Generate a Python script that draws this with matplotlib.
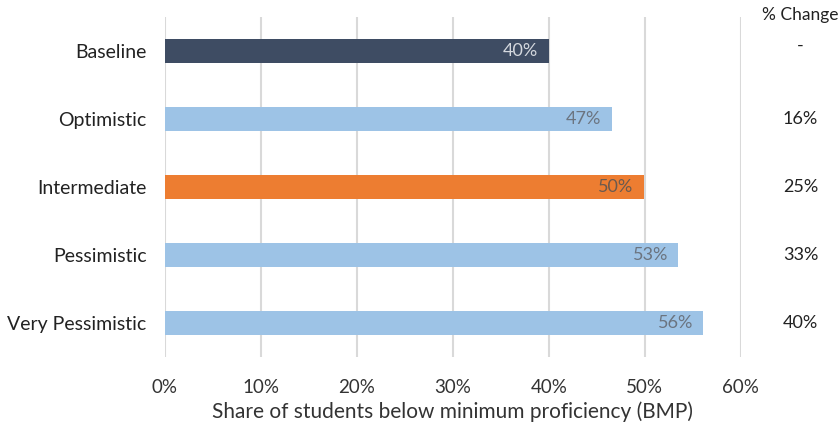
import matplotlib.pyplot as plt
import matplotlib.transforms as mtransforms

# scenario data
scenarios = ["Baseline", "Optimistic", "Intermediate", "Pessimistic", "Very Pessimistic"]
share_bmp = [40.0, 46.6, 49.9, 53.5, 56.1]
value_labels = ["40%", "47%", "50%", "53%", "56%"]
pct_change = ["-", "16%", "25%", "33%", "40%"]
bar_colors = ["#3E4C63", "#9DC3E6", "#ED7D31", "#9DC3E6", "#9DC3E6"]
label_colors = ["#D4D8DE", "#6B7480", "#6B5A4E", "#6B7480", "#6B7480"]
xticks = [0, 10, 20, 30, 40, 50, 60]

plt.rcParams["font.family"] = ["Lato", "DejaVu Sans"]

fig = plt.figure(figsize=(8.4, 4.25), dpi=100)
ax = fig.add_axes([0.196, 0.16, 0.686, 0.80])

y = list(range(len(scenarios)))
ax.barh(y, share_bmp, height=0.35, color=bar_colors, zorder=2)

# value labels inside the bar ends
for yi, v, lab, c in zip(y, share_bmp, value_labels, label_colors):
    ax.text(v - 1.1, yi, lab, ha="right", va="center", fontsize=13, color=c, zorder=3)

ax.set_xlim(0, 60)
ax.set_ylim(len(scenarios) - 0.5, -0.5)
ax.set_xticks(xticks)
ax.set_xticklabels([f"{t}%" for t in xticks], fontsize=13.5, color="#333333")
ax.set_yticks(y)
ax.set_yticklabels(scenarios, fontsize=14, color="#222222")
ax.tick_params(axis="both", length=0)
ax.tick_params(axis="x", pad=16)
ax.tick_params(axis="y", pad=13)

ax.grid(axis="x", color="#D9D9D9", linewidth=1.5, zorder=0)
ax.set_axisbelow(True)
for s in ax.spines.values():
    s.set_visible(False)

ax.set_xlabel("Share of students below minimum proficiency (BMP)", fontsize=15,
              color="#333333", labelpad=4)

# % change column to the right of the plot
trans = mtransforms.blended_transform_factory(fig.transFigure, ax.transData)
ax.text(0.953, 0.965, "% Change", transform=fig.transFigure, ha="center", va="center",
        fontsize=12.5, color="#222222")
for yi, ch in zip(y, pct_change):
    dy = -0.08 if ch == "-" else 0
    ax.text(0.953, yi + dy, ch, transform=trans, ha="center", va="center",
            fontsize=13, color="#222222", clip_on=False)

fig.savefig("out.png", dpi=100, facecolor="white")
